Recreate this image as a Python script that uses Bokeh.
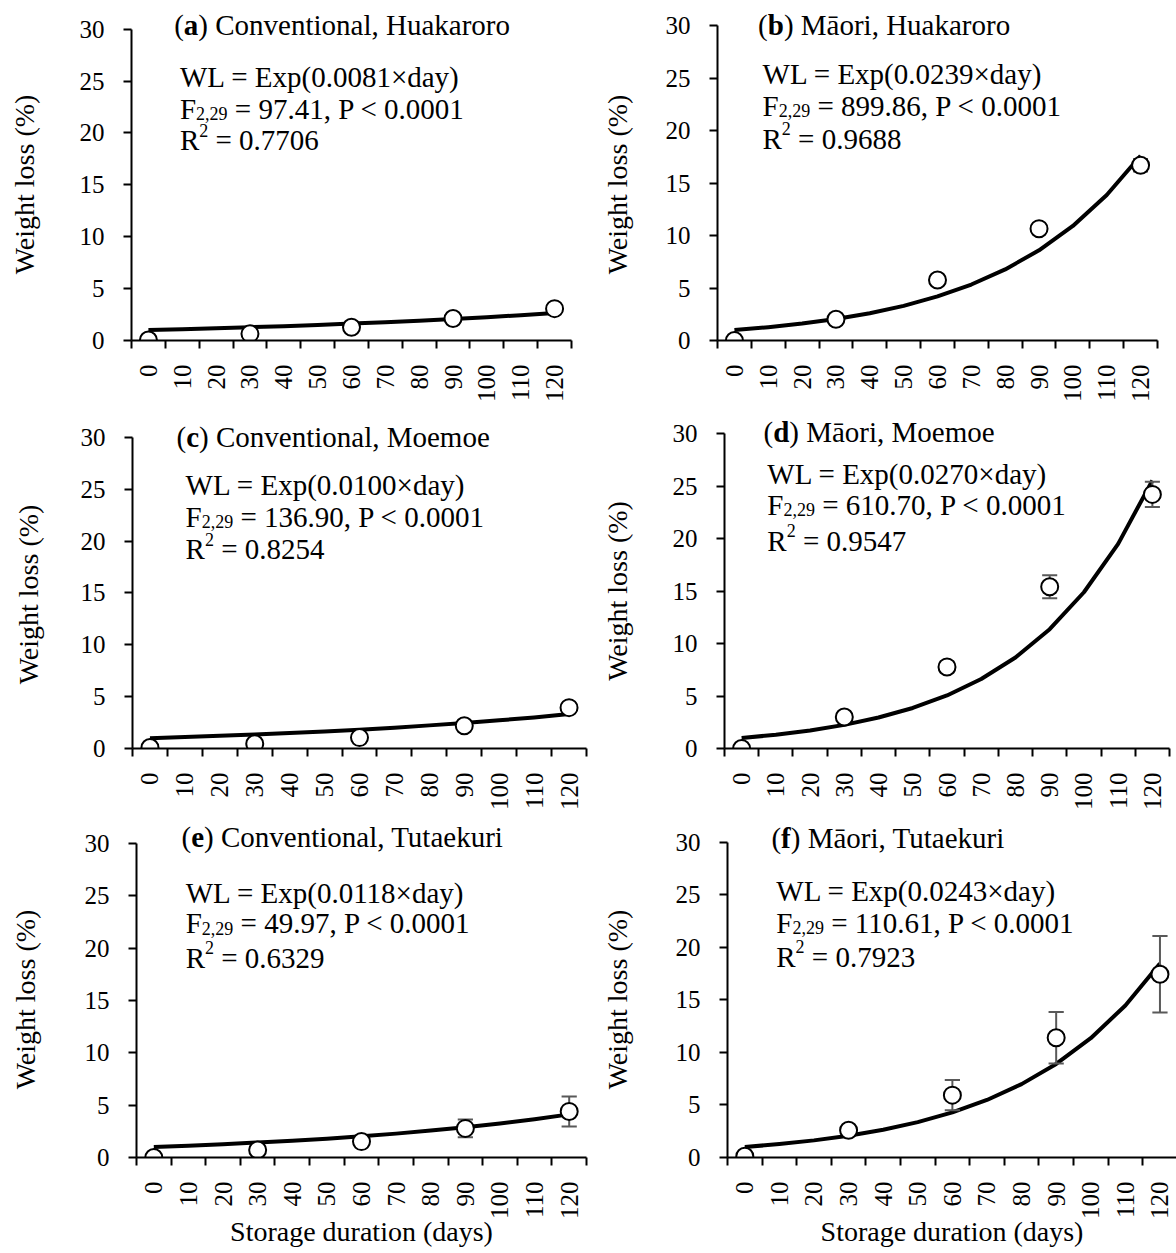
import math
from bokeh.plotting import figure
from bokeh.layouts import column, row
from bokeh.models import FixedTicker, Label, Range1d
from bokeh.embed import file_html
from bokeh.resources import INLINE

FONT = "Liberation Serif"

# ---------------- data ----------------
days = [0, 10, 20, 30, 40, 50, 60, 70, 80, 90, 100, 110, 120]
day_labels = ["0", "10", "20", "30", "40", "50", "60", "70", "80", "90", "100", "110", "120"]
cat_bounds = [-5, 5, 15, 25, 35, 45, 55, 65, 75, 85, 95, 105, 115, 125]
sample_days = [0, 30, 60, 90, 120]
y_ticks = [0, 5, 10, 15, 20, 25, 30]

# (a) Conventional, Huakaroro
a_mean = [0.05, 0.64, 1.27, 2.12, 3.07]
a_err = [0.05, 0.10, 0.15, 0.20, 0.25]
a_fit = [1.00, 1.08, 1.18, 1.28, 1.38, 1.50, 1.63, 1.76, 1.91, 2.07, 2.25, 2.44, 2.64]
# (b) Maori, Huakaroro
b_mean = [0.00, 2.02, 5.76, 10.65, 16.69]
b_err = [0.05, 0.20, 0.30, 0.40, 0.60]
b_fit = [1.00, 1.27, 1.61, 2.05, 2.60, 3.30, 4.20, 5.33, 6.77, 8.59, 10.91, 13.86, 17.60]
# (c) Conventional, Moemoe
c_mean = [0.10, 0.45, 1.05, 2.20, 3.94]
c_err = [0.05, 0.10, 0.15, 0.25, 0.40]
c_fit = [1.00, 1.11, 1.22, 1.35, 1.49, 1.65, 1.82, 2.01, 2.23, 2.46, 2.72, 3.00, 3.32]
# (d) Maori, Moemoe
d_mean = [0.00, 3.00, 7.77, 15.40, 24.20]
d_err = [0.05, 0.30, 0.50, 1.10, 1.20]
d_fit = [1.00, 1.31, 1.72, 2.25, 2.95, 3.86, 5.05, 6.62, 8.67, 11.36, 14.88, 19.49, 25.53]
# (e) Conventional, Tutaekuri
e_mean = [0.00, 0.72, 1.52, 2.78, 4.40]
e_err = [0.05, 0.20, 0.40, 0.85, 1.43]
e_fit = [1.00, 1.13, 1.27, 1.43, 1.60, 1.80, 2.03, 2.28, 2.57, 2.89, 3.25, 3.66, 4.12]
# (f) Maori, Tutaekuri
f_mean = [0.12, 2.60, 5.94, 11.40, 17.45]
f_err = [0.05, 0.30, 1.45, 2.45, 3.65]
f_fit = [1.00, 1.28, 1.63, 2.07, 2.64, 3.37, 4.30, 5.48, 6.99, 8.91, 11.36, 14.48, 18.47]

titles = {
    "a": ") Conventional, Huakaroro",
    "b": ") Māori, Huakaroro",
    "c": ") Conventional, Moemoe",
    "d": ") Māori, Moemoe",
    "e": ") Conventional, Tutaekuri",
    "f": ") Māori, Tutaekuri",
}
eq_lines = {
    "a": ("WL = Exp(0.0081×day)", "= 97.41, P < 0.0001", "= 0.7706"),
    "b": ("WL = Exp(0.0239×day)", "= 899.86, P < 0.0001", "= 0.9688"),
    "c": ("WL = Exp(0.0100×day)", "= 136.90, P < 0.0001", "= 0.8254"),
    "d": ("WL = Exp(0.0270×day)", "= 610.70, P < 0.0001", "= 0.9547"),
    "e": ("WL = Exp(0.0118×day)", "= 49.97, P < 0.0001", "= 0.6329"),
    "f": ("WL = Exp(0.0243×day)", "= 110.61, P < 0.0001", "= 0.7923"),
}
f_sub = "2,29"
r_sup = "2"
y_title = "Weight loss (%)"
x_title = "Storage duration (days)"

# ---------------- styling / layout ----------------
TXT = 29      # annotation text size
AX = 28       # axis title size
TICK = 25     # tick label size
SUB = 18      # sub/superscript size
SPACE = 0.25  # width of a space, em
BOLD_W = {"a": 0.5, "b": 0.556, "c": 0.444, "d": 0.556, "e": 0.444, "f": 0.333}

geom = {
    #     L    fw   R   fh   B   xend    yend    s2  nbsp
    "a": (131, 440, 27, 344, 68, 125.0, 32.762, 37, 4),
    "b": (117, 442, 19, 340, 72, 125.0, 32.381, 30, 4),
    "c": (132, 454, 12, 337, 71, 125.0, 32.404, 34, 4),
    "d": (121, 450, 7, 336, 72, 125.0, 32.000, 37, 3),
    "e": (136, 450, 12, 339, 94, 125.0, 32.184, 41, 3),
    "f": (127, 451, 0, 337, 96, 124.78, 32.095, 40, 3),
}
# text placement: title_x, title_y, eq_x, baselines
tpos = {
    "a": (7.6, 30.38, 9.3, (25.35, 22.35, 19.3)),
    "b": (7.0, 30.05, 8.3, (25.35, 22.35, 19.2)),
    "c": (7.6, 30.0, 10.2, (25.45, 22.35, 19.2)),
    "d": (6.4, 30.15, 7.5, (26.1, 23.2, 19.8)),
    "e": (8.0, 30.6, 9.2, (25.25, 22.35, 19.1)),
    "f": (7.7, 30.4, 9.1, (25.35, 22.35, 19.1)),
}
series = {
    "a": (a_mean, a_err, a_fit),
    "b": (b_mean, b_err, b_fit),
    "c": (c_mean, c_err, c_fit),
    "d": (d_mean, d_err, d_fit),
    "e": (e_mean, e_err, e_fit),
    "f": (f_mean, f_err, f_fit),
}


def lab(p, x, y, text, size, xo=0, yo=0, bold=False, baseline="alphabetic"):
    p.add_layout(Label(x=x, y=y, x_offset=xo, y_offset=yo, text=text,
                       text_font=FONT, text_font_size=f"{size}px",
                       text_font_style="bold" if bold else "normal",
                       text_color="black", text_align="left",
                       text_baseline=baseline))


def make_panel(key, bottom_row):
    L, fw, R, fh, B, xend, yend, s2, nb = geom[key]
    mean, err, fit = series[key]
    p = figure(width=L + fw + R, height=fh + B,
               x_range=Range1d(-5, xend), y_range=Range1d(0, yend),
               output_backend="svg", toolbar_location=None,
               min_border_left=L, min_border_right=R,
               min_border_top=0, min_border_bottom=B,
               background_fill_color="white", border_fill_color="white")
    p.outline_line_color = None
    p.xgrid.visible = False
    p.ygrid.visible = False

    # x axis: labels at category centres, ticks on category boundaries
    xa = p.xaxis[0]
    xa.ticker = FixedTicker(ticks=days, minor_ticks=cat_bounds)
    xa.major_label_overrides = {d: s for d, s in zip(days, day_labels)}
    xa.major_label_orientation = math.pi / 2
    xa.major_tick_out = 0
    xa.major_tick_in = 0
    xa.minor_tick_out = 8
    xa.minor_tick_in = 0
    xa.minor_tick_line_color = "black"
    xa.minor_tick_line_width = 2
    xa.axis_line_width = 2
    xa.axis_line_color = "black"
    xa.major_label_standoff = 16
    xa.major_label_text_font = FONT
    xa.major_label_text_font_size = f"{TICK}px"
    xa.major_label_text_color = "black"
    if bottom_row:
        xa.axis_label = x_title
        xa.axis_label_text_font = FONT
        xa.axis_label_text_font_size = f"{AX}px"
        xa.axis_label_text_font_style = "normal"
        xa.axis_label_text_color = "black"
        xa.axis_label_standoff = -6

    ya = p.yaxis[0]
    ya.ticker = FixedTicker(ticks=y_ticks)
    ya.bounds = (0, 30)
    ya.major_tick_out = 8
    ya.major_tick_in = 0
    ya.major_tick_line_width = 2
    ya.major_tick_line_color = "black"
    ya.axis_line_width = 2
    ya.axis_line_color = "black"
    ya.major_label_standoff = 19
    ya.major_label_text_font = FONT
    ya.major_label_text_font_size = f"{TICK}px"
    ya.major_label_text_color = "black"
    # non-breaking spaces keep the label centred on the 0-30 span of the axis
    ya.axis_label = y_title + "\u00a0" * nb
    ya.axis_label_text_font = FONT
    ya.axis_label_text_font_size = f"{AX}px"
    ya.axis_label_text_font_style = "normal"
    ya.axis_label_text_color = "black"
    ya.axis_label_standoff = s2

    # fitted curve
    p.line(days, fit, line_color="black", line_width=4, line_join="round")
    # error bars
    lower = [m - e for m, e in zip(mean, err)]
    upper = [m + e for m, e in zip(mean, err)]
    p.segment(x0=sample_days, y0=lower, x1=sample_days, y1=upper,
              line_color="#595959", line_width=2)
    cap_l = [d - 2.2 for d in sample_days]
    cap_r = [d + 2.2 for d in sample_days]
    p.segment(x0=cap_l, y0=upper, x1=cap_r, y1=upper, line_color="#595959", line_width=2)
    p.segment(x0=cap_l, y0=lower, x1=cap_r, y1=lower, line_color="#595959", line_width=2)
    # observed means
    p.scatter(sample_days, mean, size=17, fill_color="white",
              line_color="black", line_width=2)

    # title "(x) ..."
    tx, ty, ex, (y1, y2, y3) = tpos[key]
    lab(p, tx, ty, "(", TXT, baseline="middle")
    lab(p, tx, ty, key, TXT, xo=0.333 * TXT, bold=True, baseline="middle")
    lab(p, tx, ty, titles[key], TXT, xo=(0.333 + BOLD_W[key]) * TXT, baseline="middle")

    l1, l2, l3 = eq_lines[key]
    lab(p, ex, y1, l1, TXT)
    lab(p, ex, y2, "F", TXT)
    lab(p, ex, y2, f_sub, SUB, xo=0.556 * TXT, yo=-5)
    lab(p, ex, y2, l2, TXT, xo=0.556 * TXT + 1.75 * SUB + SPACE * TXT)
    lab(p, ex, y3, "R", TXT)
    lab(p, ex, y3, r_sup, SUB, xo=0.667 * TXT, yo=10)
    lab(p, ex, y3, l3, TXT, xo=0.667 * TXT + 0.5 * SUB + SPACE * TXT)
    return p


layout = column(
    row(make_panel("a", False), make_panel("b", False)),
    row(make_panel("c", False), make_panel("d", False)),
    row(make_panel("e", True), make_panel("f", True)),
)

open("out.html", "w").write(file_html(layout, INLINE))
